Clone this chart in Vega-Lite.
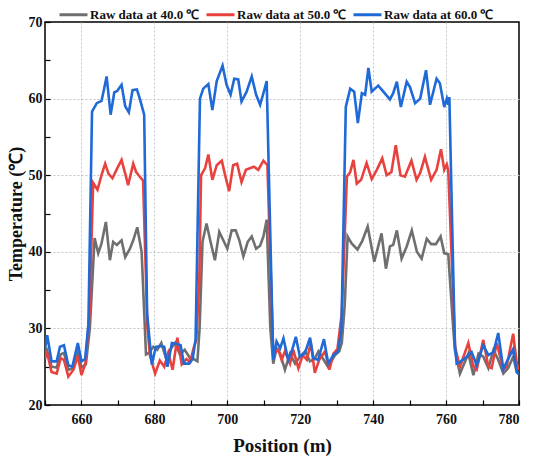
{
  "$schema": "https://vega.github.io/schema/vega-lite/v6.json",
  "width": 474,
  "height": 383,
  "autosize": {"type": "none"},
  "padding": {"left": 45, "top": 22, "right": 22, "bottom": 57},
  "background": "white",
  "config": {
    "view": {"stroke": "black", "strokeWidth": 1.5},
    "font": "Liberation Serif",
    "axis": {
      "domain": false,
      "grid": true,
      "gridDash": [2, 2],
      "gridColor": "#c4c4c4",
      "gridWidth": 1,
      "tickSize": -5,
      "tickColor": "black",
      "tickWidth": 1.2,
      "labelFont": "Liberation Serif",
      "labelFontSize": 14,
      "labelFontWeight": "bold",
      "labelColor": "#111111",
      "titleFont": "Liberation Serif",
      "titleFontWeight": "bold",
      "titleColor": "#111111"
    },
    "legend": {
      "orient": "none",
      "legendX": 13,
      "legendY": -23,
      "direction": "horizontal",
      "symbolType": "stroke",
      "symbolSize": 784,
      "symbolStrokeWidth": 3,
      "labelFont": "Liberation Serif",
      "labelFontSize": 13,
      "labelFontWeight": "bold",
      "labelColor": "#111111",
      "labelOffset": 1,
      "columnPadding": 0,
      "title": null
    }
  },
  "encoding": {
    "x": {
      "field": "position",
      "type": "quantitative",
      "scale": {"domain": [650, 780], "nice": false, "zero": false},
      "axis": {
        "values": [650, 660, 670, 680, 690, 700, 710, 720, 730, 740, 750, 760, 770, 780],
        "labelExpr": "datum.value % 20 == 0 ? datum.label : ''",
        "gridOpacity": {"condition": {"test": "datum.value % 20 == 0 && datum.value > 650 && datum.value < 780", "value": 1}, "value": 0},
        "labelPadding": 12,
        "title": "Position (m)",
        "titleFontSize": 19,
        "titlePadding": 10
      }
    },
    "y": {
      "field": "temperature",
      "type": "quantitative",
      "scale": {"domain": [20, 70], "nice": false, "zero": false},
      "axis": {
        "values": [20, 25, 30, 35, 40, 45, 50, 55, 60, 65, 70],
        "labelExpr": "datum.value % 10 == 0 ? datum.label : ''",
        "gridOpacity": {"condition": {"test": "datum.value % 10 == 0 && datum.value > 20 && datum.value < 70", "value": 1}, "value": 0},
        "labelPadding": 8,
        "title": "Temperature (℃)",
        "titleFontSize": 18,
        "titlePadding": 3
      }
    }
  },
  "layer": [
    {
      "data": {"values": [
        {"position": 650, "temperature": 26.8}, {"position": 650.5, "temperature": 27.2}, {"position": 651.8, "temperature": 25.0}, {"position": 653.2, "temperature": 24.9},
        {"position": 654.3, "temperature": 26.6}, {"position": 655.2, "temperature": 26.8}, {"position": 656.4, "temperature": 24.6}, {"position": 657.8, "temperature": 24.8},
        {"position": 659, "temperature": 26.8}, {"position": 660, "temperature": 24.9}, {"position": 661.2, "temperature": 25.3}, {"position": 662.3, "temperature": 30},
        {"position": 663.6, "temperature": 41.8}, {"position": 664.6, "temperature": 39.8}, {"position": 665.5, "temperature": 41.1}, {"position": 666.7, "temperature": 43.9},
        {"position": 667.8, "temperature": 38.9}, {"position": 668.7, "temperature": 41.3}, {"position": 669.7, "temperature": 40.9}, {"position": 671, "temperature": 41.5},
        {"position": 672, "temperature": 39.3}, {"position": 673.3, "temperature": 40.4}, {"position": 674.2, "temperature": 41.5}, {"position": 675.3, "temperature": 43.2},
        {"position": 676.5, "temperature": 40.0}, {"position": 677.7, "temperature": 26.6}, {"position": 678.5, "temperature": 26.8}, {"position": 679.7, "temperature": 27.6},
        {"position": 680.8, "temperature": 27.2}, {"position": 681.9, "temperature": 28.1}, {"position": 683.2, "temperature": 26.1}, {"position": 684.3, "temperature": 27.2},
        {"position": 685.7, "temperature": 28.1}, {"position": 687, "temperature": 26.6}, {"position": 688.3, "temperature": 27.2}, {"position": 689.8, "temperature": 26.1},
        {"position": 690.8, "temperature": 26.0}, {"position": 691.8, "temperature": 25.7}, {"position": 692.4, "temperature": 30}, {"position": 693.2, "temperature": 41.3},
        {"position": 694.3, "temperature": 43.7}, {"position": 695.4, "temperature": 41.3}, {"position": 696.6, "temperature": 38.9}, {"position": 697.8, "temperature": 42.6},
        {"position": 698.9, "temperature": 41.5}, {"position": 700, "temperature": 40.4}, {"position": 701.2, "temperature": 42.8}, {"position": 702.3, "temperature": 42.8},
        {"position": 703.3, "temperature": 41.5}, {"position": 704.4, "temperature": 39.4}, {"position": 705.6, "temperature": 41.3}, {"position": 706.7, "temperature": 42.0},
        {"position": 707.9, "temperature": 40.4}, {"position": 709, "temperature": 40.8}, {"position": 709.9, "temperature": 42.0}, {"position": 710.8, "temperature": 44.2},
        {"position": 711.8, "temperature": 30}, {"position": 712.6, "temperature": 25.4}, {"position": 713.5, "temperature": 27.4}, {"position": 714.5, "temperature": 26.7},
        {"position": 715.8, "temperature": 24.6}, {"position": 717.2, "temperature": 26.7}, {"position": 718.6, "temperature": 25.4}, {"position": 719.9, "temperature": 26.3},
        {"position": 721.3, "temperature": 27.0}, {"position": 722.7, "temperature": 25.7}, {"position": 723.9, "temperature": 26.0}, {"position": 725, "temperature": 27.0},
        {"position": 726.3, "temperature": 26.0}, {"position": 727.6, "temperature": 25.0}, {"position": 729.5, "temperature": 26.5}, {"position": 730.7, "temperature": 27.0},
        {"position": 731.4, "temperature": 28.1}, {"position": 732.2, "temperature": 33}, {"position": 733, "temperature": 42.0}, {"position": 734.1, "temperature": 41.1},
        {"position": 735.7, "temperature": 40.3}, {"position": 737, "temperature": 41.4}, {"position": 738.5, "temperature": 43.3}, {"position": 740.3, "temperature": 38.7},
        {"position": 742.3, "temperature": 42.4}, {"position": 743.5, "temperature": 37.8}, {"position": 744.6, "temperature": 40.7}, {"position": 745.5, "temperature": 40.9},
        {"position": 746.5, "temperature": 42.8}, {"position": 747.8, "temperature": 39.1}, {"position": 749.2, "temperature": 40.7}, {"position": 750.6, "temperature": 42.8},
        {"position": 752, "temperature": 40.0}, {"position": 753.3, "temperature": 39.1}, {"position": 754.7, "temperature": 41.7}, {"position": 755.9, "temperature": 41.0},
        {"position": 757.2, "temperature": 41.0}, {"position": 758.5, "temperature": 42.0}, {"position": 759.5, "temperature": 39.8}, {"position": 760.6, "temperature": 39.7},
        {"position": 761.8, "temperature": 31.1}, {"position": 762.4, "temperature": 27.2}, {"position": 763.8, "temperature": 24.1}, {"position": 766.1, "temperature": 26.7},
        {"position": 767.5, "temperature": 23.9}, {"position": 768.9, "temperature": 26.7}, {"position": 770.2, "temperature": 26.3}, {"position": 771.6, "temperature": 24.8},
        {"position": 773, "temperature": 27.2}, {"position": 774.3, "temperature": 25.9}, {"position": 775.7, "temperature": 24.1}, {"position": 777, "temperature": 24.8},
        {"position": 778.4, "temperature": 26.3}, {"position": 779.4, "temperature": 24.3}, {"position": 780, "temperature": 24.0}
      ]},
      "mark": {"type": "line", "strokeWidth": 2.6, "clip": true},
      "encoding": {
        "color": {
          "datum": "Raw data at 40.0 ℃",
          "type": "nominal",
          "scale": {
            "domain": ["Raw data at 40.0 ℃", "Raw data at 50.0 ℃", "Raw data at 60.0 ℃"],
            "range": ["#6f6f6f", "#e8423f", "#1f6ad6"]
          }
        }
      }
    },
    {
      "data": {"values": [
        {"position": 650, "temperature": 26.0}, {"position": 650.5, "temperature": 27.0}, {"position": 651.8, "temperature": 24.3}, {"position": 653.2, "temperature": 24.1},
        {"position": 654.3, "temperature": 26.1}, {"position": 655.2, "temperature": 25.9}, {"position": 656.4, "temperature": 23.7}, {"position": 657.8, "temperature": 24.6},
        {"position": 659, "temperature": 26.4}, {"position": 660, "temperature": 23.9}, {"position": 661.1, "temperature": 25.5}, {"position": 662.2, "temperature": 32},
        {"position": 663.2, "temperature": 49.0}, {"position": 664.4, "temperature": 48.1}, {"position": 665.5, "temperature": 50.0}, {"position": 666.5, "temperature": 51.5},
        {"position": 667.4, "temperature": 50.2}, {"position": 668.5, "temperature": 49.6}, {"position": 669.7, "temperature": 50.8}, {"position": 671, "temperature": 52.0},
        {"position": 672, "temperature": 50.2}, {"position": 672.8, "temperature": 48.7}, {"position": 674.2, "temperature": 51.5}, {"position": 675, "temperature": 50.4},
        {"position": 676, "temperature": 49.8}, {"position": 676.9, "temperature": 49.3}, {"position": 678.1, "temperature": 30}, {"position": 678.8, "temperature": 26.4},
        {"position": 680.2, "temperature": 24.1}, {"position": 681.5, "temperature": 25.8}, {"position": 682.7, "temperature": 25.0}, {"position": 683.8, "temperature": 26.8},
        {"position": 685, "temperature": 24.6}, {"position": 686.3, "temperature": 28.8}, {"position": 687.5, "temperature": 25.3}, {"position": 688.8, "temperature": 26.0},
        {"position": 689.8, "temperature": 25.6}, {"position": 690.8, "temperature": 27.5}, {"position": 691.5, "temperature": 28.5}, {"position": 692.3, "temperature": 36},
        {"position": 692.8, "temperature": 50.0}, {"position": 693.9, "temperature": 50.9}, {"position": 694.8, "temperature": 52.7}, {"position": 695.9, "temperature": 49.4},
        {"position": 697.1, "temperature": 51.3}, {"position": 698.5, "temperature": 51.9}, {"position": 699.4, "temperature": 50.0}, {"position": 700.5, "temperature": 47.9},
        {"position": 701.6, "temperature": 51.3}, {"position": 702.7, "temperature": 51.5}, {"position": 703.9, "temperature": 49.1}, {"position": 705.1, "temperature": 50.7},
        {"position": 706.2, "temperature": 50.9}, {"position": 707.3, "temperature": 51.1}, {"position": 708.5, "temperature": 50.7}, {"position": 709.9, "temperature": 51.9},
        {"position": 711, "temperature": 51.3}, {"position": 712.6, "temperature": 26.7}, {"position": 714, "temperature": 27.2}, {"position": 714.9, "temperature": 25.9},
        {"position": 715.8, "temperature": 27.0}, {"position": 717.2, "temperature": 25.4}, {"position": 718.1, "temperature": 27.2}, {"position": 719.5, "temperature": 24.8},
        {"position": 720.7, "temperature": 26.5}, {"position": 721.8, "temperature": 25.9}, {"position": 722.9, "temperature": 28.1}, {"position": 724, "temperature": 24.2},
        {"position": 725.2, "temperature": 25.9}, {"position": 726.8, "temperature": 27.0}, {"position": 728, "temperature": 24.6}, {"position": 729.1, "temperature": 26.7},
        {"position": 730.2, "temperature": 27.3}, {"position": 731.4, "temperature": 32}, {"position": 732.8, "temperature": 49.8}, {"position": 733.7, "temperature": 50.4},
        {"position": 734.6, "temperature": 52.0}, {"position": 735.5, "temperature": 48.9}, {"position": 736.7, "temperature": 49.4}, {"position": 738.2, "temperature": 51.6},
        {"position": 739.6, "temperature": 49.5}, {"position": 741, "temperature": 50.7}, {"position": 742.5, "temperature": 52.2}, {"position": 743.7, "temperature": 50.0},
        {"position": 745, "temperature": 50.4}, {"position": 746.2, "temperature": 53.9}, {"position": 747.5, "temperature": 50.0}, {"position": 748.7, "temperature": 49.8},
        {"position": 750.5, "temperature": 51.9}, {"position": 751.9, "temperature": 49.4}, {"position": 752.9, "temperature": 50.3}, {"position": 754.2, "temperature": 52.4},
        {"position": 755.9, "temperature": 49.4}, {"position": 757.4, "temperature": 50.7}, {"position": 758.6, "temperature": 53.4}, {"position": 759.5, "temperature": 50.7},
        {"position": 760.2, "temperature": 51.4}, {"position": 760.6, "temperature": 50.6}, {"position": 762.5, "temperature": 27.5}, {"position": 763.8, "temperature": 25.0},
        {"position": 766.1, "temperature": 28.1}, {"position": 767.5, "temperature": 25.0}, {"position": 768.4, "temperature": 24.6}, {"position": 770.2, "temperature": 28.5},
        {"position": 771.6, "temperature": 25.0}, {"position": 772.5, "temperature": 24.8}, {"position": 773.9, "temperature": 28.1}, {"position": 775.7, "temperature": 24.6},
        {"position": 776.6, "temperature": 25.0}, {"position": 778.4, "temperature": 29.3}, {"position": 779.4, "temperature": 25.4}, {"position": 780, "temperature": 24.6}
      ]},
      "mark": {"type": "line", "strokeWidth": 2.6, "clip": true},
      "encoding": {"color": {"datum": "Raw data at 50.0 ℃", "type": "nominal"}}
    },
    {
      "data": {"values": [
        {"position": 650, "temperature": 27.3}, {"position": 650.6, "temperature": 29.1}, {"position": 651.8, "temperature": 25.7}, {"position": 653.2, "temperature": 25.7},
        {"position": 654.1, "temperature": 27.6}, {"position": 655.2, "temperature": 27.8}, {"position": 656.4, "temperature": 25.2}, {"position": 657.5, "temperature": 25.0},
        {"position": 659, "temperature": 28.1}, {"position": 660, "temperature": 25.7}, {"position": 661, "temperature": 26.0}, {"position": 661.9, "temperature": 30.5},
        {"position": 662.9, "temperature": 58.3}, {"position": 664.2, "temperature": 59.4}, {"position": 665.5, "temperature": 59.7}, {"position": 666, "temperature": 60.8},
        {"position": 666.9, "temperature": 62.9}, {"position": 668, "temperature": 57.9}, {"position": 669, "temperature": 60.8}, {"position": 669.8, "temperature": 61.0},
        {"position": 671, "temperature": 61.8}, {"position": 672, "temperature": 59.0}, {"position": 673, "temperature": 58.2}, {"position": 674, "temperature": 61.1},
        {"position": 675.2, "temperature": 61.2}, {"position": 676, "temperature": 60.0}, {"position": 677.2, "temperature": 57.9}, {"position": 678, "temperature": 32},
        {"position": 679.3, "temperature": 25.3}, {"position": 680.4, "temperature": 27.6}, {"position": 681.6, "temperature": 27.7}, {"position": 682.7, "temperature": 27.6},
        {"position": 683.6, "temperature": 25.0}, {"position": 684.8, "temperature": 28.1}, {"position": 686, "temperature": 28.0}, {"position": 687.2, "temperature": 27.8},
        {"position": 688.1, "temperature": 25.4}, {"position": 689.5, "temperature": 25.4}, {"position": 690.5, "temperature": 26.0}, {"position": 691.3, "temperature": 28.6},
        {"position": 692.5, "temperature": 60.0}, {"position": 693.4, "temperature": 61.3}, {"position": 694.8, "temperature": 61.9}, {"position": 695.9, "temperature": 58.5},
        {"position": 697.1, "temperature": 62.3}, {"position": 698.7, "temperature": 64.3}, {"position": 699.8, "temperature": 61.8}, {"position": 700.9, "temperature": 60.5},
        {"position": 701.9, "temperature": 62.6}, {"position": 703, "temperature": 62.5}, {"position": 703.9, "temperature": 59.6}, {"position": 705.3, "temperature": 60.9},
        {"position": 706.7, "temperature": 62.9}, {"position": 707.9, "temperature": 60.5}, {"position": 709, "temperature": 59.2}, {"position": 709.9, "temperature": 60.7},
        {"position": 710.8, "temperature": 62.3}, {"position": 712.6, "temperature": 25.9}, {"position": 713.5, "temperature": 28.3}, {"position": 714.5, "temperature": 27.4},
        {"position": 715.4, "temperature": 28.7}, {"position": 716.7, "temperature": 25.9}, {"position": 717.8, "temperature": 27.2}, {"position": 718.8, "temperature": 28.9},
        {"position": 719.9, "temperature": 26.3}, {"position": 721.3, "temperature": 26.8}, {"position": 722.7, "temperature": 28.8}, {"position": 723.6, "temperature": 26.1},
        {"position": 724.9, "temperature": 25.9}, {"position": 726.5, "temperature": 28.6}, {"position": 727.7, "temperature": 25.4}, {"position": 729.1, "temperature": 26.5},
        {"position": 730.4, "temperature": 27.0}, {"position": 731.3, "temperature": 30}, {"position": 732.5, "temperature": 58.9}, {"position": 733.7, "temperature": 61.3},
        {"position": 734.8, "temperature": 60.9}, {"position": 735.8, "temperature": 56.8}, {"position": 736.9, "temperature": 60.7}, {"position": 737.8, "temperature": 60.5},
        {"position": 738.7, "temperature": 64.0}, {"position": 739.6, "temperature": 60.9}, {"position": 740.5, "temperature": 61.3}, {"position": 741.4, "temperature": 61.7},
        {"position": 742.8, "temperature": 60.9}, {"position": 744.6, "temperature": 59.9}, {"position": 745.5, "temperature": 60.7}, {"position": 746.5, "temperature": 62.2},
        {"position": 747.6, "temperature": 58.9}, {"position": 749.2, "temperature": 62.2}, {"position": 750.1, "temperature": 61.5}, {"position": 751.5, "temperature": 59.4},
        {"position": 752.9, "temperature": 60.0}, {"position": 754.5, "temperature": 63.7}, {"position": 755.6, "temperature": 59.2}, {"position": 757.4, "temperature": 62.6},
        {"position": 758.3, "temperature": 62.0}, {"position": 759.5, "temperature": 58.9}, {"position": 760.2, "temperature": 60.0}, {"position": 760.6, "temperature": 59.2},
        {"position": 760.9, "temperature": 60.2}, {"position": 762.4, "temperature": 28}, {"position": 762.9, "temperature": 25.4}, {"position": 763.8, "temperature": 25.6},
        {"position": 765.7, "temperature": 26.3}, {"position": 767, "temperature": 26.9}, {"position": 768.4, "temperature": 25.2}, {"position": 770.2, "temperature": 27.8},
        {"position": 771.6, "temperature": 26.5}, {"position": 773, "temperature": 26.9}, {"position": 774.3, "temperature": 29.4}, {"position": 775.7, "temperature": 24.7},
        {"position": 777, "temperature": 26.0}, {"position": 778.4, "temperature": 27.3}, {"position": 779.4, "temperature": 24.3}, {"position": 780, "temperature": 24.0}
      ]},
      "mark": {"type": "line", "strokeWidth": 2.6, "clip": true},
      "encoding": {"color": {"datum": "Raw data at 60.0 ℃", "type": "nominal"}}
    }
  ]
}
